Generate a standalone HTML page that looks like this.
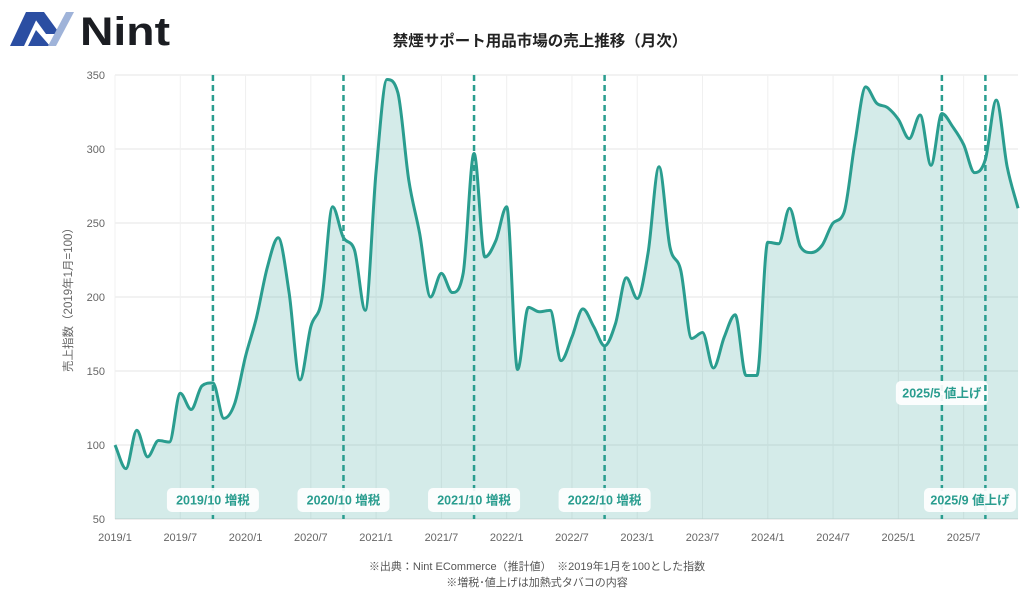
<!DOCTYPE html>
<html><head><meta charset="utf-8">
<style>
body{margin:0;width:1024px;height:596px;background:#fff;overflow:hidden;font-family:"Liberation Sans","Noto Sans CJK JP",sans-serif;}
svg{position:absolute;left:0;top:0}
</style></head>
<body>
<svg id="chart" width="1024" height="596">
  <g>
    <polygon points="10,46 26,12 40,12 24,46" fill="#2b4ea2"/>
    <polygon points="30,12 44,12 60,34 46,34" fill="#2b4ea2"/>
    <polygon points="28,46 36,30 50,46" fill="#2b4ea2"/>
    <polygon points="48,46 66,12 74,12 56,46" fill="#9fb3d9"/>
    <text x="80" y="45" font-size="40" font-weight="bold" fill="#1b1d22" textLength="90" lengthAdjust="spacingAndGlyphs">Nint</text>
  </g>
  <text x="540" y="46" text-anchor="middle" font-size="15.5" font-weight="bold" fill="#222">禁煙サポート用品市場の売上推移（月次）</text>
  <text transform="translate(72,297) rotate(-90)" text-anchor="middle" font-size="11.5" fill="#666">売上指数（2019年1月=100）</text>
  <g id="grid"></g>
  <g id="area"></g>
  <g id="annot"></g>
  <g id="ticks"></g>
  <text x="537" y="570" text-anchor="middle" font-size="11" fill="#555">※出典：Nint ECommerce（推計値）　※2019年1月を100とした指数</text>
  <text x="537" y="586" text-anchor="middle" font-size="11" fill="#555">※増税･値上げは加熱式タバコの内容</text>
</svg>
<script>
const values=[100,84,110,92,103,102,135,124,140,142,118,128,
160,186,220,240,203,144,180,198,261,240,232,191,
285,347,338,279,243,200,216,203,216,297,227,238,
261,151,193,190,191,157,173,192,180,167,182,213,
199,230,288,234,218,172,176,152,173,188,147,147,
237,236,260,234,230,235,250,257,304,342,331,328,
320,307,323,289,324,315,303,284,293,333,288,260];
const yTicks=[50,100,150,200,250,300,350];
const xTickLabels=["2019/1","2019/7","2020/1","2020/7","2021/1","2021/7","2022/1","2022/7","2023/1","2023/7","2024/1","2024/7","2025/1","2025/7"];
const eventIdx=[9,21,33,45,76,80];
const eventLabels=["2019/10 増税","2020/10 増税","2021/10 増税","2022/10 増税","2025/5 値上げ","2025/9 値上げ"];
const eventLabelY=[500,500,500,500,393,500];

const NS="http://www.w3.org/2000/svg";
const X0=115, XS=10.88, Y0=519, YS=444/300, XR=1018;
const xs=i=>X0+i*XS;
const ys=v=>Y0-(v-50)*YS;
function mk(tag,attrs,parent){const e=document.createElementNS(NS,tag);for(const k in attrs)e.setAttribute(k,attrs[k]);parent.appendChild(e);return e;}
const grid=document.getElementById('grid'),area=document.getElementById('area'),annot=document.getElementById('annot'),ticks=document.getElementById('ticks');
yTicks.forEach(t=>{
  const l=mk('line',{x1:X0,x2:XR,y1:ys(t),y2:ys(t),stroke:'#e6e6e6','stroke-width':1},grid);
  
  
  const tx=mk('text',{x:105,y:ys(t)+4,'text-anchor':'end','font-size':11,fill:'#666'},ticks);
  tx.textContent=t;
  
  
});
xTickLabels.forEach((lab,k)=>{
  const x=xs(k*6);
  const l=mk('line',{x1:x,x2:x,y1:ys(350),y2:Y0,stroke:'#f0f0f0','stroke-width':1},grid);
  
  
  const tx=mk('text',{x:x,y:541,'text-anchor':'middle','font-size':11,fill:'#666'},ticks);
  tx.textContent=lab;
  
  
});
// monotone cubic (Fritsch-Carlson)
const pts=values.map((v,i)=>[xs(i),ys(v)]);
const n=pts.length, dl=[], m=[];
for(let i=0;i<n-1;i++)dl.push((pts[i+1][1]-pts[i][1])/XS);
m[0]=dl[0];m[n-1]=dl[n-2];
for(let i=1;i<n-1;i++){m[i]=(dl[i-1]*dl[i]<=0)?0:(dl[i-1]+dl[i])/2;}
for(let i=0;i<n-1;i++){
  if(dl[i]===0){m[i]=0;m[i+1]=0;continue;}
  const a=m[i]/dl[i],b=m[i+1]/dl[i],s=a*a+b*b;
  if(s>9){const tt=3/Math.sqrt(s);m[i]=tt*a*dl[i];m[i+1]=tt*b*dl[i];}
}
let d=`M${pts[0][0]},${pts[0][1]}`;
for(let i=0;i<n-1;i++){
  const h=XS/3;
  d+=` C${pts[i][0]+h},${pts[i][1]+m[i]*h} ${pts[i+1][0]-h},${pts[i+1][1]-m[i+1]*h} ${pts[i+1][0]},${pts[i+1][1]}`;
}
const fill=mk('path',{d:d+` L${pts[n-1][0]},${Y0} L${pts[0][0]},${Y0} Z`,fill:'rgba(42,157,143,0.2)'},area);


const line=mk('path',{d:d,fill:'none',stroke:'#2a9d8f','stroke-width':3,'stroke-linejoin':'round'},area);


const ax=mk('line',{x1:X0,x2:XR,y1:Y0,y2:Y0,stroke:'#ddd','stroke-width':1},grid);


eventIdx.forEach((idx,k)=>{
  const x=xs(idx);
  const l=mk('line',{x1:x,x2:x,y1:ys(350),y2:Y0,stroke:'#2a9d8f','stroke-width':2.5,'stroke-dasharray':'6,4'},annot);
  
  
  const w=92,h=24,cy=eventLabelY[k];
  const cx=Math.min(x,1016-w/2);
  const r=mk('rect',{x:cx-w/2,y:cy-h/2,width:w,height:h,rx:5,fill:'rgba(255,255,255,0.9)'},annot);
  
  
  const tx=mk('text',{x:cx,y:cy+4.5,'text-anchor':'middle','font-size':12.5,'font-weight':'bold',fill:'#2a9d8f'},annot);
  tx.textContent=eventLabels[k];
  
  
});
</script>
</body></html>
